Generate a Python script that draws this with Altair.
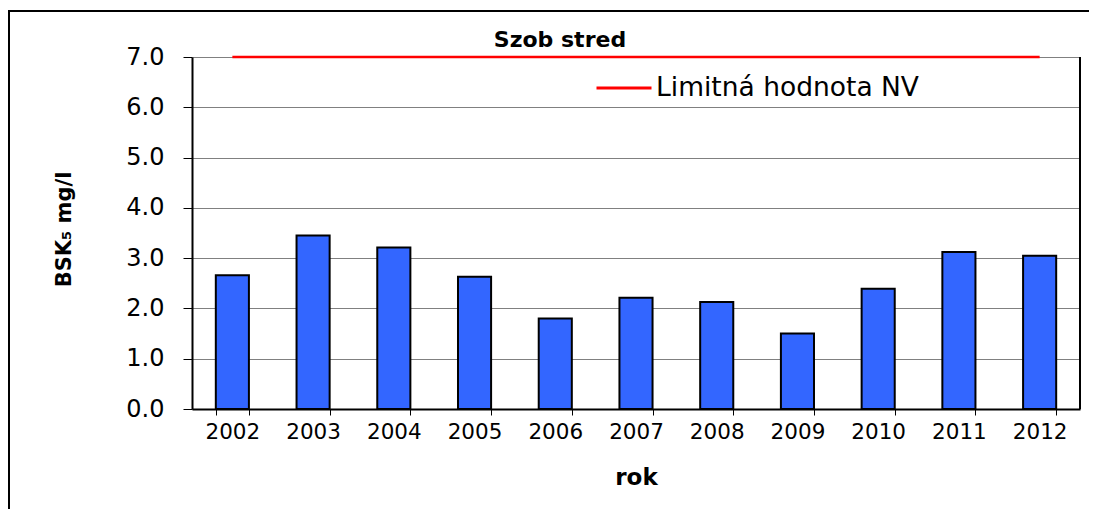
import altair as alt
import pandas as pd

# ---- data ----
years = ["2002", "2003", "2004", "2005", "2006", "2007", "2008", "2009", "2010", "2011", "2012"]
bsk5 = [2.66, 3.45, 3.21, 2.63, 1.80, 2.21, 2.13, 1.50, 2.39, 3.12, 3.05]
limit_value = 7.0
limit_label = "Limitná hodnota NV"
chart_title = "Szob stred"
y_ticks = [0, 1, 2, 3, 4, 5, 6, 7]

bars_df = pd.DataFrame({"rok": years, "value": bsk5})
limit_df = pd.DataFrame({"rok": years, "limit": [limit_value] * len(years), "series": [limit_label] * len(years)})
title_df = pd.DataFrame({"t": [chart_title]})

W, H = 888, 352
FONT = "DejaVu Sans"

x_enc = alt.X(
    "rok:N",
    sort=years,
    scale=alt.Scale(paddingInner=0.59, paddingOuter=0.295),
    axis=alt.Axis(
        title="rok", labelAngle=0, labelFont=FONT, labelFontSize=21.5, labelColor="#000",
        tickBand="extent", tickSize=6, tickColor="#000", tickWidth=1,
        labelPadding=6, domainColor="#000", domainWidth=2, grid=False,
        titleFont=FONT, titleFontSize=23, titleFontWeight="bold", titleColor="#000",
        titleY=75, titleBaseline="alphabetic",
    ),
)

bars = alt.Chart(bars_df).mark_bar(color="#3366FF", stroke="#000", strokeWidth=2).encode(
    x=x_enc,
    y=alt.Y(
        "value:Q",
        scale=alt.Scale(domain=[0, 7], nice=False),
        axis=alt.Axis(
            values=y_ticks, format=".1f", labelFont=FONT, labelFontSize=24, labelColor="#000",
            tickSize=9, tickColor="#000", tickWidth=1, labelPadding=19,
            domainColor="#000", domainWidth=2, gridColor="#808080", gridWidth=1,
            title="BSK₅ mg/l", titleFont=FONT, titleFontSize=21, titleFontWeight="bold",
            titleColor="#000", titleAngle=270, titleX=-122, titleY=172,
            titleBaseline="alphabetic", titleAlign="center",
        ),
    ),
)

limit_line = alt.Chart(limit_df).mark_line(strokeWidth=2.5).encode(
    x=alt.X("rok:N", sort=years),
    y=alt.Y("limit:Q"),
    color=alt.Color(
        "series:N",
        scale=alt.Scale(domain=[limit_label], range=["#FF0000"]),
        legend=alt.Legend(
            title=None, orient="none", legendX=403, legendY=2, padding=0,
            symbolType="stroke", symbolSize=3025, symbolStrokeWidth=3,
            labelFont=FONT, labelFontSize=26.5, labelColor="#000", labelOffset=3,
            labelLimit=600,
        ),
    ),
)

right_border = alt.Chart(title_df).mark_rule(color="#000", strokeWidth=2).encode(
    x=alt.value(W), y=alt.value(0), y2=alt.value(H)
)
frame_top = alt.Chart(title_df).mark_rule(color="#000", strokeWidth=2).encode(
    x=alt.value(-184), x2=alt.value(900), y=alt.value(-46)
)
frame_left = alt.Chart(title_df).mark_rule(color="#000", strokeWidth=2).encode(
    x=alt.value(-183), y=alt.value(-46), y2=alt.value(470)
)
title_text = alt.Chart(title_df).mark_text(
    font=FONT, fontSize=22, fontWeight="bold", color="#000", baseline="alphabetic", align="center"
).encode(x=alt.value(368), y=alt.value(-10), text="t:N")

chart = alt.layer(bars, limit_line, right_border, frame_top, frame_left, title_text).properties(
    width=W, height=H,
    autosize=alt.AutoSizeParams(type="none"),
    padding={"left": 184, "top": 49, "right": 9, "bottom": 100},
).configure_view(strokeWidth=0)

chart.save("out.html", embed_options={"renderer": "svg", "actions": False})
